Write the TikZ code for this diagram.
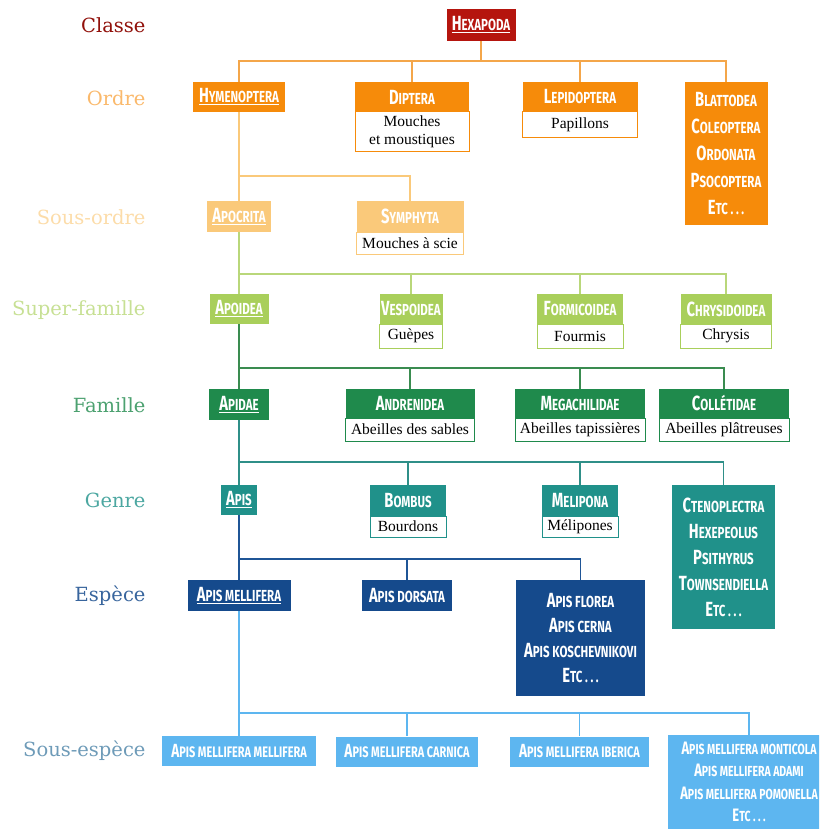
\documentclass[tikz,border=0pt]{standalone}
\usepackage{fontspec}
\newfontfamily\boxfont[FakeStretch=0.72]{Fira Sans}
\newfontfamily\bodyfont{Liberation Serif}
\newfontfamily\rankfont{DejaVu Serif}

\definecolor{hexred}{HTML}{B5150E}
\definecolor{ordorange}{HTML}{F68B0A}
\definecolor{ordline}{HTML}{F4A64A}
\definecolor{sorange}{HTML}{FAC97A}
\definecolor{sfgreen}{HTML}{A9CF5B}
\definecolor{sfline}{HTML}{B9D77A}
\definecolor{famgreen}{HTML}{1F8A4C}
\definecolor{famline}{HTML}{3A8C50}
\definecolor{genteal}{HTML}{20918A}
\definecolor{genline}{HTML}{2F8F88}
\definecolor{espblue}{HTML}{154A8C}
\definecolor{espline}{HTML}{1F5596}
\definecolor{sspblue}{HTML}{5DB6F0}

\newcommand{\smcbig}{20.5}
\newcommand{\smcsmall}{16}
\newcommand{\smc}[2]{{\fontsize{\smcbig}{\smcbig}\selectfont #1}{\fontsize{\smcsmall}{\smcsmall}\selectfont #2}}

\tikzset{
  rank/.style={anchor=east, text=#1, font=\rankfont\fontsize{19.5}{19.5}\selectfont},
  hdr/.style={fill=#1, text=white, inner sep=0pt, minimum height=30, align=center,
    font=\boxfont\bfseries\fontsize{16}{26}\selectfont},
  lines/.style={font=\boxfont\bfseries\fontsize{16}{#1}\selectfont},
  body/.style={draw=#1, line width=1pt, fill=white, inner sep=0pt, minimum height=23,
    align=center, font=\bodyfont\fontsize{15.5}{18}\selectfont},
  ssp/.style={hdr=sspblue,
    font=\boxfont\bfseries\renewcommand\smcbig{19}\renewcommand\smcsmall{15.2}\fontsize{15.2}{22.5}\selectfont},
  sspmore/.style={hdr=sspblue,
    font=\boxfont\bfseries\renewcommand\smcbig{18}\renewcommand\smcsmall{14.6}\fontsize{14.6}{22.5}\selectfont},
  link/.style={draw=#1, line width=1.6pt},
}

\begin{document}
\begin{tikzpicture}[x=1pt, y=-1pt]
  \useasboundingbox (0,0) rectangle (819,829);
  \clip (0,0) rectangle (819,829);

  % Ranks on the left
  \node[rank=hexred!80!black] (rclasse) at (149,25) {Classe};
  \node[rank=ordorange!60] (rordre) at (149,98) {Ordre};
  \node[rank=sorange!65] (rsordre) at (149,217) {Sous-ordre};
  \node[rank=sfgreen!65] (rsfam) at (149,310) {Super-famille};
  \node[rank=famgreen!80] (rfam) at (149,405) {Famille};
  \node[rank=genteal!80] (rgenre) at (149,500) {Genre};
  \node[rank=espblue!85] (resp) at (149,596) {Espèce};
  \node[rank=sspblue!50!gray] (rssp) at (149,751) {Sous-espèce};

  % Classe
  \node[hdr=hexred, minimum width=69, minimum height=32] (hexa) at (481,25) {\underline{\smc{H}{EXAPODA}}};

  % Ordre
  \node[hdr=ordorange, minimum width=92] (hym) at (239,97) {\underline{\smc{H}{YMENOPTERA}}};
  \node[hdr=ordorange, minimum width=114] (dip) at (412,97) {\smc{D}{IPTERA}};
  \node[body=ordorange, minimum width=114, minimum height=40] (dipb) at (412,132) {Mouches\\et moustiques};
  \node[hdr=ordorange, minimum width=115] (lep) at (580,97) {\smc{L}{EPIDOPTERA}};
  \node[body=ordorange, minimum width=115, minimum height=26] (lepb) at (580,125) {Papillons};
  \node[hdr=ordorange, lines=27, minimum width=83, minimum height=143] (bla) at (726,153.5)
    {\smc{B}{LATTODEA}\\\smc{C}{OLEOPTERA}\\\smc{O}{RDONATA}\\\smc{P}{SOCOPTERA}\\\smc{E}{TC\,.\,.\,.}};

  % Sous-ordre
  \node[hdr=sorange, minimum width=64, minimum height=31] (apoc) at (239,216.5) {\underline{\smc{A}{POCRITA}}};
  \node[hdr=sorange, minimum width=107, minimum height=31] (sym) at (410,216.5) {\smc{S}{YMPHYTA}};
  \node[body=sorange, minimum width=107, minimum height=22] (symb) at (410,243) {Mouches à scie};

  % Super-famille
  \node[hdr=sfgreen, minimum width=59] (apo) at (239,309) {\underline{\smc{A}{POIDEA}}};
  \node[hdr=sfgreen, minimum width=63] (ves) at (411,309) {\smc{V}{ESPOIDEA}};
  \node[body=sfgreen, minimum width=63, minimum height=24] (vesb) at (411,336) {Guèpes};
  \node[hdr=sfgreen, minimum width=86] (for) at (580,309) {\smc{F}{ORMICOIDEA}};
  \node[body=sfgreen, minimum width=86, minimum height=24] (forb) at (580,336) {Fourmis};
  \node[hdr=sfgreen, minimum width=91] (chr) at (726,309) {\smc{C}{HRYSIDOIDEA}};
  \node[body=sfgreen, minimum width=91, minimum height=24] (chrb) at (726,336) {Chrysis};

  % Famille
  \node[hdr=famgreen, minimum width=60, minimum height=31] (api) at (239,404.5) {\underline{\smc{A}{PIDAE}}};
  \node[hdr=famgreen, minimum width=129, minimum height=29] (and) at (410,403.5) {\smc{A}{NDRENIDEA}};
  \node[body=famgreen, minimum width=129] (andb) at (410,429.5) {Abeilles des sables};
  \node[hdr=famgreen, minimum width=130, minimum height=29] (meg) at (580,403.5) {\smc{M}{EGACHILIDAE}};
  \node[body=famgreen, minimum width=130] (megb) at (580,429.5) {Abeilles tapissières};
  \node[hdr=famgreen, minimum width=130, minimum height=29] (col) at (724,403.5) {\smc{C}{OLLÉTIDAE}};
  \node[body=famgreen, minimum width=130] (colb) at (724,429.5) {Abeilles plâtreuses};

  % Genre
  \node[hdr=genteal, minimum width=36] (apis) at (239,500) {\underline{\smc{A}{PIS}}};
  \node[hdr=genteal, minimum width=76, minimum height=31] (bom) at (408,500.5) {\smc{B}{OMBUS}};
  \node[body=genteal, minimum width=76, minimum height=21] (bomb) at (408,526.5) {Bourdons};
  \node[hdr=genteal, minimum width=76, minimum height=31] (mel) at (580,500.5) {\smc{M}{ELIPONA}};
  \node[body=genteal, minimum width=76, minimum height=21] (melb) at (580,526.5) {Mélipones};
  \node[hdr=genteal, lines=26, minimum width=103, minimum height=144] (cte) at (723.5,557)
    {\smc{C}{TENOPLECTRA}\\\smc{H}{EXEPEOLUS}\\\smc{P}{SITHYRUS}\\\smc{T}{OWNSENDIELLA}\\\smc{E}{TC\,.\,.\,.}};

  % Espece
  \node[hdr=espblue, minimum width=103, minimum height=31] (amel) at (239,595.5) {\underline{\smc{A}{PIS MELLIFERA}}};
  \node[hdr=espblue, minimum width=90, minimum height=31] (ador) at (407,595.5) {\smc{A}{PIS DORSATA}};
  \node[hdr=espblue, lines=25, minimum width=129, minimum height=116] (aflo) at (580.5,638)
    {\smc{A}{PIS FLOREA}\\\smc{A}{PIS CERNA}\\\smc{A}{PIS KOSCHEVNIKOVI}\\\smc{E}{TC\,.\,.\,.}};

  % Sous-espece
  \node[ssp, minimum width=154] (ammel) at (239,751) {\smc{A}{PIS MELLIFERA MELLIFERA}};
  \node[ssp, minimum width=142] (amcar) at (407,751.5) {\smc{A}{PIS MELLIFERA CARNICA}};
  \node[ssp, minimum width=139] (amibe) at (579.5,751.5) {\smc{A}{PIS MELLIFERA IBERICA}};
  \node[sspmore, minimum width=162, minimum height=94] (ammon) at (749,782)
    {\smc{A}{PIS MELLIFERA MONTICOLA}\\\smc{A}{PIS MELLIFERA ADAMI}\\\smc{A}{PIS MELLIFERA POMONELLA}\\\smc{E}{TC .\,.\,.}};

  % Links Classe -> Ordre
  \draw[link=ordline] (hexa.south) -- ++(0,20) -| (hym.north);
  \draw[link=ordline] (hexa.south) -- ++(0,20) -| (dip.north);
  \draw[link=ordline] (hexa.south) -- ++(0,20) -| (lep.north);
  \draw[link=ordline] (hexa.south) -- ++(0,20) -| (bla.north);

  % Links Ordre -> Sous-ordre
  \draw[link=sorange] (hym.south) -- (apoc.north);
  \draw[link=sorange] (hym.south) -- ++(0,64) -| (sym.north);

  % Links Sous-ordre -> Super-famille
  \draw[link=sfline] (apoc.south) -- (apo.north);
  \draw[link=sfline] (apoc.south) -- ++(0,42) -| (ves.north);
  \draw[link=sfline] (apoc.south) -- ++(0,42) -| (for.north);
  \draw[link=sfline] (apoc.south) -- ++(0,42) -| (chr.north);

  % Links Super-famille -> Famille
  \draw[link=famline] (apo.south) -- (api.north);
  \draw[link=famline] (apo.south) -- ++(0,44) -| (and.north);
  \draw[link=famline] (apo.south) -- ++(0,44) -| (meg.north);
  \draw[link=famline] (apo.south) -- ++(0,44) -| (col.north);

  % Links Famille -> Genre
  \draw[link=genline] (api.south) -- (apis.north);
  \draw[link=genline] (api.south) -- ++(0,42) -| (bom.north);
  \draw[link=genline] (api.south) -- ++(0,42) -| (mel.north);
  \draw[link=genline] (api.south) -- ++(0,42) -| (cte.north);

  % Links Genre -> Espece
  \draw[link=espline] (apis.south) -- (amel.north);
  \draw[link=espline] (apis.south) -- ++(0,44) -| (ador.north);
  \draw[link=espline] (apis.south) -- ++(0,44) -| (aflo.north);

  % Links Espece -> Sous-espece
  \draw[link=sspblue] (amel.south) -- (ammel.north);
  \draw[link=sspblue] (amel.south) -- ++(0,102) -| (amcar.north);
  \draw[link=sspblue] (amel.south) -- ++(0,102) -| (amibe.north);
  \draw[link=sspblue] (amel.south) -- ++(0,102) -| (ammon.north);
\end{tikzpicture}
\end{document}
